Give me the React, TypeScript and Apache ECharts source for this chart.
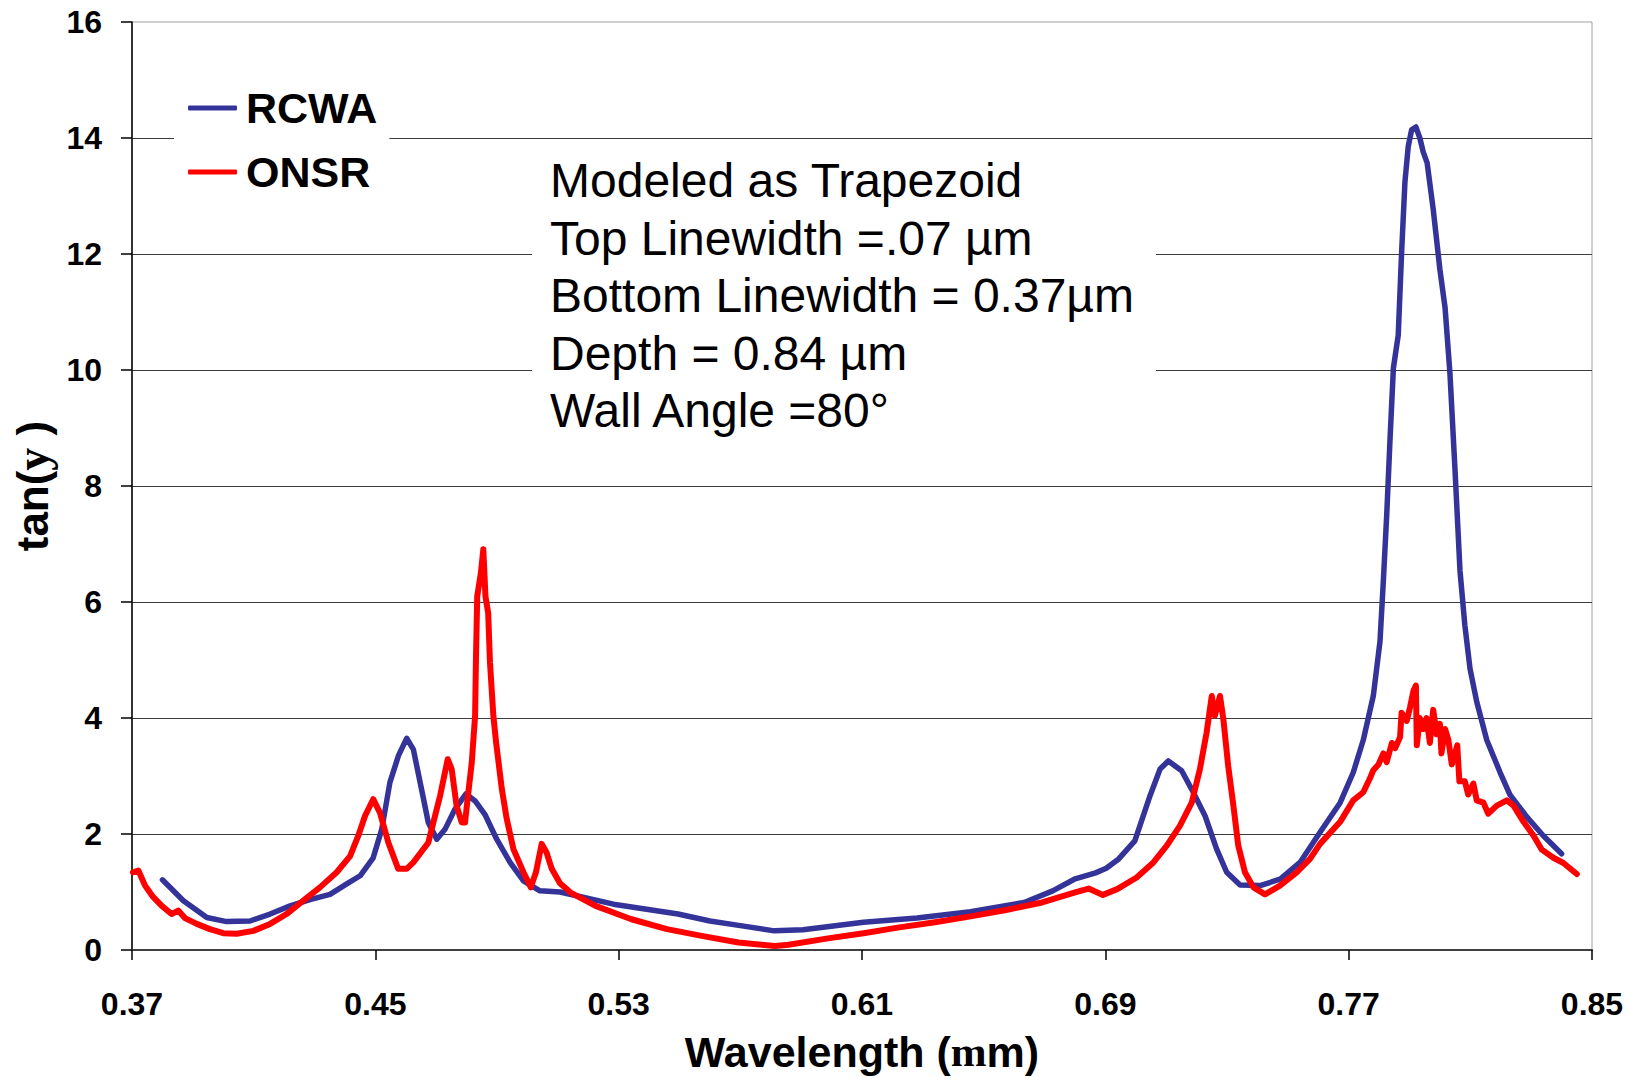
import React, { useEffect, useRef } from "react";
import * as echarts from "echarts";

const FONT = "'Liberation Sans', Arial, sans-serif";
const SERIF = "'Liberation Serif', 'Times New Roman', serif";

const xTickValues = [0.37, 0.45, 0.53, 0.61, 0.69, 0.77, 0.85];

const rcwaWavelength = [
  0.38, 0.3869, 0.3946, 0.4011, 0.4088, 0.4154, 0.422, 0.4285, 0.4351, 0.4406,
  0.445, 0.4493, 0.4521, 0.4548, 0.4576, 0.4603, 0.4625, 0.4652, 0.4674, 0.4702,
  0.4729, 0.4762, 0.4798, 0.4828, 0.486, 0.4899, 0.4943, 0.4987, 0.5041, 0.5107,
  0.5283, 0.5495, 0.56, 0.57, 0.5812, 0.5906, 0.6105, 0.6281, 0.6457, 0.6633,
  0.6727, 0.6798, 0.6868, 0.6903, 0.6944, 0.6997, 0.7047, 0.708, 0.7107, 0.7151,
  0.7184, 0.7228, 0.7266, 0.7299, 0.7343, 0.7409, 0.7474, 0.754, 0.7606, 0.7672,
  0.7715, 0.7748, 0.7781, 0.7803, 0.7814, 0.7825, 0.7836, 0.7847, 0.7863, 0.7874,
  0.7885, 0.7896, 0.7907, 0.7921, 0.7934, 0.7945, 0.7958, 0.7978, 0.8, 0.8017,
  0.8033, 0.805, 0.8066, 0.8082, 0.8099, 0.8121, 0.8154, 0.8198, 0.823, 0.8285,
  0.834, 0.84,
];
const rcwaValues = [
  1.21, 0.85, 0.56, 0.49, 0.5, 0.62, 0.76, 0.87, 0.96, 1.14,
  1.28, 1.59, 2.08, 2.89, 3.35, 3.65, 3.46, 2.77, 2.2, 1.91,
  2.08, 2.43, 2.69, 2.57, 2.34, 1.91, 1.51, 1.19, 1.02, 1.0,
  0.79, 0.62, 0.5, 0.42, 0.33, 0.35, 0.48, 0.55, 0.66, 0.82,
  1.02, 1.22, 1.33, 1.41, 1.57, 1.88, 2.66, 3.12, 3.26, 3.09,
  2.77, 2.31, 1.74, 1.34, 1.12, 1.11, 1.22, 1.51, 2.03, 2.54,
  3.06, 3.62, 4.38, 5.32, 6.36, 7.49, 8.81, 10.03, 10.6, 12.02,
  13.24, 13.86, 14.14, 14.19, 14.0, 13.76, 13.57, 12.77, 11.73, 11.07,
  9.94, 8.24, 6.54, 5.6, 4.85, 4.28, 3.62, 3.06, 2.68, 2.3,
  1.97, 1.66,
];

const onsrWavelength = [
  0.3703, 0.3721, 0.3743, 0.377, 0.3798, 0.383, 0.3852, 0.3874, 0.3913, 0.3956,
  0.4, 0.4044, 0.4099, 0.4154, 0.4208, 0.4263, 0.4318, 0.4373, 0.4417, 0.4444,
  0.4466, 0.4493, 0.4515, 0.4543, 0.4575, 0.4603, 0.4625, 0.4674, 0.4713, 0.4738,
  0.4751, 0.4767, 0.4784, 0.4795, 0.4802, 0.4817, 0.4828, 0.4831, 0.4835, 0.4847,
  0.4855, 0.4862, 0.4871, 0.4877, 0.4888, 0.4897, 0.4916, 0.4932, 0.4954, 0.4987,
  0.5011, 0.5028, 0.5047, 0.5063, 0.508, 0.5107, 0.5142, 0.5224, 0.5342, 0.5459,
  0.5577, 0.5694, 0.5812, 0.5859, 0.5988, 0.6105, 0.6223, 0.634, 0.6457, 0.6574,
  0.6692, 0.6798, 0.6845, 0.6892, 0.6939, 0.7003, 0.7058, 0.7102, 0.7145, 0.7184,
  0.7211, 0.7233, 0.725, 0.726, 0.7277, 0.7288, 0.7304, 0.7321, 0.7337, 0.7359,
  0.7387, 0.7425, 0.7474, 0.7529, 0.7573, 0.7606, 0.7672, 0.7715, 0.7748, 0.777,
  0.7781, 0.7798, 0.7814, 0.7825, 0.7842, 0.7853, 0.7869, 0.7874, 0.7891, 0.7902,
  0.7913, 0.7921, 0.7924, 0.7934, 0.7945, 0.7956, 0.7967, 0.7978, 0.7989, 0.8,
  0.8005, 0.8017, 0.8028, 0.8039, 0.805, 0.8057, 0.8064, 0.8082, 0.8093, 0.811,
  0.8121, 0.8143, 0.8159, 0.8187, 0.822, 0.8242, 0.8275, 0.8308, 0.8335, 0.8373,
  0.8406, 0.845,
];
const onsrValues = [
  1.34, 1.37, 1.11, 0.91, 0.76, 0.62, 0.68, 0.55, 0.45, 0.36,
  0.29, 0.28, 0.33, 0.45, 0.62, 0.85, 1.08, 1.34, 1.62, 1.97,
  2.31, 2.6, 2.37, 1.85, 1.4, 1.4, 1.51, 1.85, 2.66, 3.29,
  3.12, 2.49, 2.2, 2.2, 2.54, 3.23, 4.04, 5.07, 6.1, 6.5,
  6.91, 6.1, 5.81, 4.95, 4.04, 3.58, 2.77, 2.26, 1.74, 1.34,
  1.08, 1.34, 1.83, 1.68, 1.4, 1.15, 0.99, 0.76, 0.53, 0.36,
  0.24, 0.13, 0.07, 0.09, 0.2, 0.29, 0.39, 0.48, 0.58, 0.69,
  0.82, 0.99, 1.06, 0.95, 1.05, 1.25, 1.51, 1.8, 2.14, 2.54,
  3.12, 3.75, 4.38, 4.04, 4.38, 3.98, 3.17, 2.49, 1.8, 1.34,
  1.08, 0.96, 1.11, 1.34, 1.57, 1.83, 2.21, 2.58, 2.72, 2.96,
  3.1, 3.2, 3.39, 3.24, 3.57, 3.48, 3.67, 4.09, 3.95, 4.19,
  4.47, 4.56, 3.53, 4.0, 3.81, 4.0, 3.57, 4.14, 3.72, 3.9,
  3.39, 3.81, 3.62, 3.2, 3.39, 3.53, 2.91, 2.91, 2.68, 2.87,
  2.58, 2.54, 2.35, 2.49, 2.58, 2.49, 2.21, 1.97, 1.73, 1.59,
  1.5, 1.31,
];

const annotationLines = [
  "Modeled as Trapezoid",
  "Top Linewidth =.07 \u00b5m",
  "Bottom Linewidth = 0.37\u00b5m",
  "Depth = 0.84 \u00b5m",
  "Wall Angle =80\u00b0",
];

export default function App() {
  const ref = useRef<HTMLDivElement>(null);

  useEffect(() => {
    if (!ref.current) return;
    const chart = echarts.init(ref.current, null, { renderer: "svg" });
    const rcwa = rcwaWavelength.map((x, i) => [x, rcwaValues[i]]);
    const onsr = onsrWavelength.map((x, i) => [x, onsrValues[i]]);

    chart.setOption({
      animation: false,
      backgroundColor: "#ffffff",
      grid: {
        left: 132,
        right: 45,
        top: 22,
        bottom: 127,
        show: true,
        borderColor: "#a0a0a0",
        borderWidth: 1,
        backgroundColor: "transparent",
      },
      legend: {
        orient: "vertical",
        left: 174,
        top: 73,
        icon: "roundRect",
        itemWidth: 49,
        itemHeight: 5,
        itemGap: 14,
        backgroundColor: "#ffffff",
        padding: [10, 12, 10, 14],
        data: ["RCWA", "ONSR"],
        textStyle: {
          fontFamily: FONT,
          fontSize: 43,
          fontWeight: "bold",
          color: "#000",
          lineHeight: 50,
          padding: [0, 0, 0, 4],
        },
      },
      xAxis: {
        type: "value",
        min: 0.37,
        max: 0.85,
        name: "{a|Wavelength (}{b|m}{a|m)}",
        nameLocation: "middle",
        nameGap: 80,
        nameTextStyle: {
          rich: {
            a: { fontFamily: FONT, fontSize: 43, fontWeight: "bold", color: "#000" },
            b: { fontFamily: SERIF, fontSize: 43, fontWeight: "bold", color: "#000" },
          },
        },
        axisLine: { show: true, lineStyle: { color: "#404040", width: 2 } },
        axisTick: {
          show: true,
          inside: false,
          length: 10,
          customValues: xTickValues,
          lineStyle: { color: "#000", width: 1.5 },
        },
        axisLabel: {
          customValues: xTickValues,
          formatter: (v: number) => v.toFixed(2),
          margin: 38,
          fontFamily: FONT,
          fontSize: 32,
          fontWeight: "bold",
          color: "#000",
        },
        splitLine: { show: false },
      },
      yAxis: {
        type: "value",
        min: 0,
        max: 16,
        interval: 2,
        name: "{a|tan(}{b|y}{a| )}",
        nameLocation: "middle",
        nameRotate: 90,
        nameGap: 70,
        nameTextStyle: {
          rich: {
            a: { fontFamily: FONT, fontSize: 44, fontWeight: "bold", color: "#000" },
            b: { fontFamily: SERIF, fontSize: 46, fontWeight: "bold", color: "#000" },
          },
        },
        axisLine: { show: true, lineStyle: { color: "#000", width: 1.5 } },
        axisTick: { show: true, inside: false, length: 11, lineStyle: { color: "#000", width: 1.5 } },
        axisLabel: {
          margin: 30,
          fontFamily: FONT,
          fontSize: 32,
          fontWeight: "bold",
          color: "#000",
        },
        splitLine: {
          show: true,
          showMaxLine: false,
          lineStyle: { color: "#3c3c3c", width: 1.2 },
        },
      },
      graphic: [
        {
          type: "rect",
          left: 532,
          top: 148,
          z: 1,
          shape: { width: 624, height: 304 },
          style: { fill: "#ffffff" },
        },
        {
          type: "text",
          x: 550,
          y: 152,
          z: 5,
          style: {
            text: annotationLines.join("\n"),
            fontFamily: FONT,
            fontSize: 48,
            lineHeight: 57.5,
            fill: "#000",
            verticalAlign: "top",
            align: "left",
          },
        },
      ],
      series: [
        {
          name: "RCWA",
          type: "line",
          data: rcwa,
          showSymbol: false,
          symbol: "none",
          smooth: false,
          z: 3,
          lineStyle: { color: "#333399", width: 5.5, join: "round", cap: "round" },
          itemStyle: { color: "#333399" },
        },
        {
          name: "ONSR",
          type: "line",
          data: onsr,
          showSymbol: false,
          symbol: "none",
          smooth: false,
          z: 4,
          lineStyle: { color: "#ff0000", width: 6, join: "round", cap: "round" },
          itemStyle: { color: "#ff0000" },
        },
      ],
    });

    return () => {
      chart.dispose();
    };
  }, []);

  return (
    <div
      ref={ref}
      style={{
        position: "fixed",
        left: 0,
        top: 0,
        width: 1637,
        height: 1078,
        background: "#fff",
      }}
    />
  );
}
